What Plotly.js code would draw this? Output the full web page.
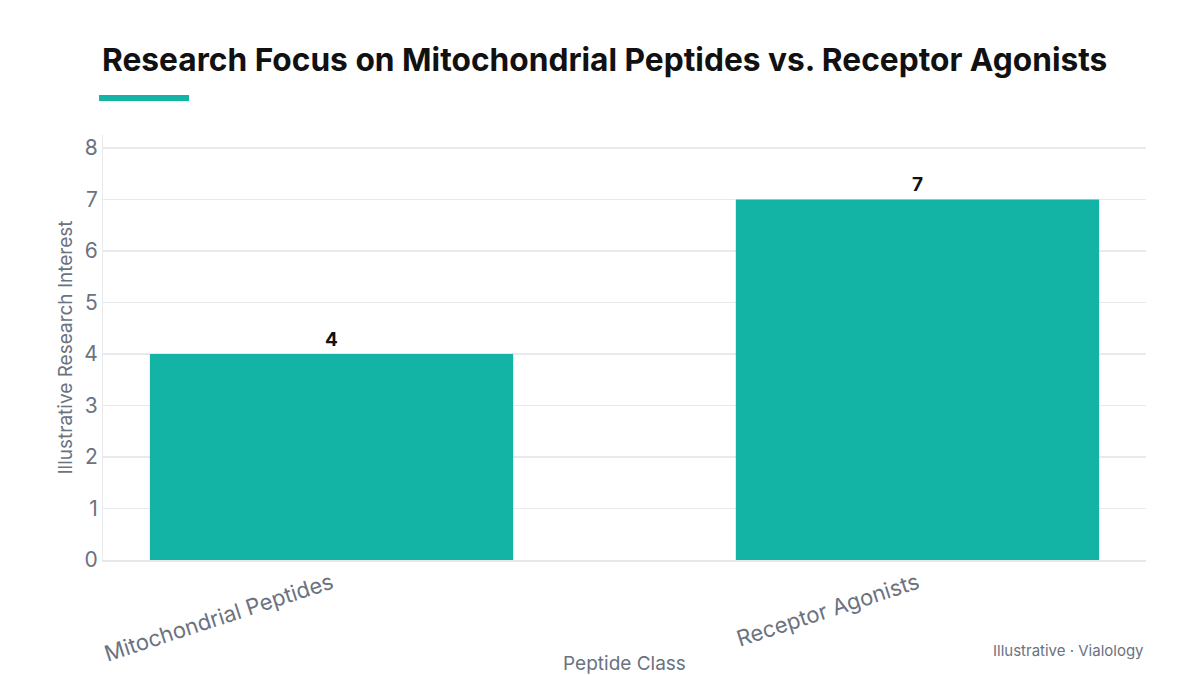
<!DOCTYPE html>
<html>
<head>
<meta charset="utf-8">
<script src="https://cdn.plot.ly/plotly-3.0.1.min.js"></script>
<style>html,body{margin:0;padding:0;background:#fff;}#chart{width:1200px;height:675px;}</style>
</head>
<body>
<div id="chart"></div>
<script>
const categories = ["Mitochondrial Peptides", "Receptor Agonists"];
const values = [4, 7];
const yTicks = [0, 1, 2, 3, 4, 5, 6, 7, 8];

const FONT = "Inter, 'Open Sans', sans-serif";
const GREY = "#6b7280";

const trace = {
  type: "bar",
  x: categories,
  y: values,
  width: 0.62,
  marker: {color: "#13b3a6"},
  text: values.map(String),
  textposition: "outside",
  textfont: {family: FONT, size: 19, color: "#111111", weight: 700},
  cliponaxis: false,
  hoverinfo: "none"
};

const layout = {
  width: 1200,
  height: 675,
  margin: {l: 103, r: 54, t: 135, b: 115},
  paper_bgcolor: "#ffffff",
  plot_bgcolor: "#ffffff",
  font: {family: FONT, color: GREY},
  showlegend: false,
  title: {
    text: "Research Focus on Mitochondrial Peptides vs. Receptor Agonists",
    font: {family: FONT, size: 31.7, color: "#111111", weight: 700},
    x: 0.085, xref: "container", xanchor: "left",
    y: 0.911, yref: "container", yanchor: "middle"
  },
  xaxis: {
    type: "category",
    range: [-0.39, 1.39],
    tickangle: -18,
    tickfont: {family: FONT, size: 22, color: GREY},
    showgrid: false,
    showline: true,
    linecolor: "#e5e7eb",
    linewidth: 2,
    ticks: "",
    title: {text: "Peptide Class", font: {family: FONT, size: 19, color: GREY}, standoff: 13}
  },
  yaxis: {
    range: [0, 8.25],
    tickvals: yTicks,
    ticktext: yTicks.map(String),
    tickfont: {family: FONT, size: 21, color: GREY},
    showgrid: true,
    gridcolor: "#e8eaed",
    gridwidth: 1.5,
    zeroline: false,
    showline: true,
    linecolor: "#e8eaed",
    ticks: "",
    ticklen: 0,
    title: {text: "Illustrative Research Interest", font: {family: FONT, size: 19, color: GREY}, standoff: 6}
  },
  shapes: [{
    type: "rect",
    xref: "paper", yref: "paper",
    x0: -0.0038, x1: 0.0825,
    y0: 1.08, y1: 1.094,
    fillcolor: "#13b3a6",
    line: {width: 0}
  }],
  annotations: [{
    text: "Illustrative · Vialology",
    xref: "paper", yref: "paper",
    x: 1, y: (560 - 650) / 425,
    xanchor: "right", yanchor: "middle",
    showarrow: false,
    font: {family: FONT, size: 15, color: GREY}
  }]
};

Plotly.newPlot("chart", [trace], layout, {displayModeBar: false, staticPlot: true});
</script>
</body>
</html>
